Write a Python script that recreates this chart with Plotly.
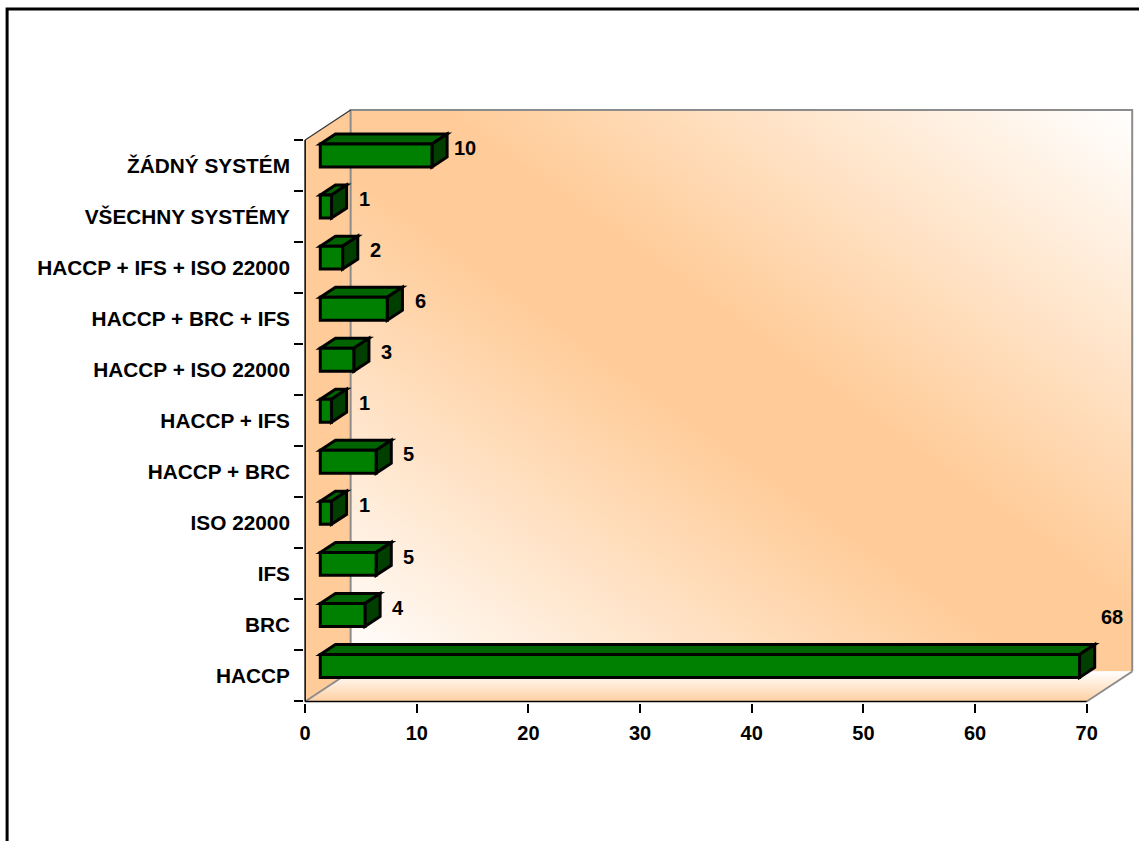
import base64
import plotly.graph_objects as go

# ---- data -------------------------------------------------------------
categories = [
    "HACCP",
    "BRC",
    "IFS",
    "ISO 22000",
    "HACCP + BRC",
    "HACCP + IFS",
    "HACCP + ISO 22000",
    "HACCP + BRC + IFS",
    "HACCP + IFS + ISO 22000",
    "VŠECHNY SYSTÉMY",
    "ŽÁDNÝ SYSTÉM",
]
counts = [68, 4, 5, 1, 5, 1, 3, 6, 2, 1, 10]
x_ticks = [0, 10, 20, 30, 40, 50, 60, 70]

# ---- geometry of the pseudo-3D box -------------------------------------
W, H = 1139, 841
PX_X = 11.165          # pixels per x unit
PX_Y = 51.06           # pixels per category band
X0_PX = 305.5          # pixel of x = 0 on the front plane
YB_PX = 701.7          # pixel of the front floor edge (y = -0.5)
DEPTH_X = 45.5 / PX_X  # depth of the box along x (data units)
DEPTH_Y = 30.0 / PX_Y  # depth of the box along y (data units)
X_MAX = x_ticks[-1]
N = len(categories)
Y_BOT, Y_TOP = -0.5, N - 0.5

XMIN, XMAX = -0.1, X_MAX + DEPTH_X + 0.25
YMIN, YMAX = Y_BOT - 0.03, Y_TOP + DEPTH_Y + 0.04

m_l = X0_PX + XMIN * PX_X
plot_w = (XMAX - XMIN) * PX_X
m_r = W - m_l - plot_w
bottom_px = YB_PX + (Y_BOT - YMIN) * PX_Y
m_b = H - bottom_px
plot_h = (YMAX - YMIN) * PX_Y
m_t = bottom_px - plot_h

PEACH = "#FFCC99"
FONT = "Liberation Sans, Arial, sans-serif"
FRONT, TOP, SIDE = "#008000", "#006400", "#003F00"
BAR_HALF = 0.225       # half thickness of a bar (band units)


def poly(pts):
    return "M " + " L ".join(f"{x},{y}" for x, y in pts) + " Z"


fig = go.Figure()

# floor with a front-to-back fade
fx = [0, X_MAX, X_MAX + DEPTH_X, DEPTH_X, 0]
fy = [Y_BOT, Y_BOT, Y_BOT + DEPTH_Y, Y_BOT + DEPTH_Y, Y_BOT]
fig.add_trace(go.Scatter(
    x=fx, y=fy, mode="lines", line=dict(width=0), fill="toself",
    fillgradient=dict(type="vertical", start=Y_BOT, stop=Y_BOT + DEPTH_Y,
                      colorscale=[[0, "#FFD0A2"], [1, "#FFFFFF"]]),
    hoverinfo="skip", showlegend=False,
))

shapes = []
# left side wall
shapes.append(dict(type="path", xref="x", yref="y", layer="below",
                   path=poly([(0, Y_BOT), (0, Y_TOP), (DEPTH_X, Y_TOP + DEPTH_Y),
                              (DEPTH_X, Y_BOT + DEPTH_Y)]),
                   fillcolor=PEACH, line=dict(width=0)))

GRAY = dict(color="#8C8C8C", width=2)
BLACK = dict(color="black", width=1.5)
# back wall frame
shapes.append(dict(type="path", xref="x", yref="y",
                   path=f"M {DEPTH_X},{Y_BOT + DEPTH_Y} L {DEPTH_X},{Y_TOP + DEPTH_Y} "
                        f"L {X_MAX + DEPTH_X},{Y_TOP + DEPTH_Y} L {X_MAX + DEPTH_X},{Y_BOT + DEPTH_Y}",
                   line=GRAY))
# floor side edges
shapes.append(dict(type="line", xref="x", yref="y", x0=0, y0=Y_BOT,
                   x1=DEPTH_X, y1=Y_BOT + DEPTH_Y, line=GRAY))
shapes.append(dict(type="line", xref="x", yref="y", x0=X_MAX, y0=Y_BOT,
                   x1=X_MAX + DEPTH_X, y1=Y_BOT + DEPTH_Y, line=GRAY))
# side wall top edge
shapes.append(dict(type="line", xref="x", yref="y", x0=0, y0=Y_TOP,
                   x1=DEPTH_X, y1=Y_TOP + DEPTH_Y, line=dict(color="#333333", width=1.2)))
# axis lines
shapes.append(dict(type="line", xref="x", yref="y", x0=0, y0=Y_BOT,
                   x1=X_MAX, y1=Y_BOT, line=BLACK))
shapes.append(dict(type="line", xref="x", yref="y", x0=0, y0=Y_BOT,
                   x1=0, y1=Y_TOP, line=BLACK))

# bars: front face sits one third into the depth, back face at two thirds
dx, dy = DEPTH_X / 3, DEPTH_Y / 3
OUT = dict(color="black", width=3)
annotations = []
for i, v in enumerate(counts):
    x0, x1 = dx, v + dx
    yc = i + dy
    lo, hi = yc - BAR_HALF, yc + BAR_HALF
    shapes.append(dict(type="path", xref="x", yref="y", fillcolor=TOP, line=OUT,
                       path=poly([(x0, hi), (x1, hi), (x1 + dx, hi + dy), (x0 + dx, hi + dy)])))
    shapes.append(dict(type="path", xref="x", yref="y", fillcolor=SIDE, line=OUT,
                       path=poly([(x1, lo), (x1 + dx, lo + dy), (x1 + dx, hi + dy), (x1, hi)])))
    shapes.append(dict(type="path", xref="x", yref="y", fillcolor=FRONT, line=OUT,
                       path=poly([(x0, lo), (x1, lo), (x1, hi), (x0, hi)])))
    # value label; one that reaches the last tick is lifted above the bar
    lift = 1.16 if v + 4.3 > X_MAX else 0.34
    annotations.append(dict(x=v + 4.3, y=i + lift, xref="x", yref="y",
                            text=str(v), showarrow=False, xanchor="center", yanchor="middle",
                            font=dict(family=FONT, size=20, color="black", weight="bold")))

# outer chart frame (runs off the right and bottom of the page)
def px_to_paper_x(p):
    return (p - m_l) / plot_w


def px_to_paper_y(p):
    return (H - m_b - p) / plot_h


shapes.append(dict(type="path", xref="paper", yref="paper",
                   path=f"M {px_to_paper_x(1160)},{px_to_paper_y(9)} L {px_to_paper_x(7.5)},{px_to_paper_y(9)} "
                        f"L {px_to_paper_x(7.5)},{px_to_paper_y(870)}",
                   line=dict(color="black", width=3)))

# back wall shading
svg = ('<svg xmlns="http://www.w3.org/2000/svg" width="200" height="200" viewBox="0 0 200 200" '
       'preserveAspectRatio="none"><defs><linearGradient id="g" x1="0" y1="1" x2="1" y2="0">'
       '<stop offset="0" stop-color="#FFFFFF"/><stop offset="0.44" stop-color="#FFCC99"/>'
       '<stop offset="0.56" stop-color="#FFCC99"/>'
       '<stop offset="1" stop-color="#FFFFFF"/></linearGradient></defs>'
       '<rect width="200" height="200" fill="url(#g)"/></svg>')
wall_src = "data:image/svg+xml;base64," + base64.b64encode(svg.encode()).decode()

fig.update_layout(
    width=W, height=H,
    margin=dict(l=m_l, r=m_r, t=m_t, b=m_b, pad=0),
    paper_bgcolor="white", plot_bgcolor="white",
    showlegend=False,
    shapes=shapes,
    annotations=annotations,
    images=[dict(source=wall_src, xref="x", yref="y", x=DEPTH_X, y=Y_TOP + DEPTH_Y,
                 sizex=X_MAX, sizey=Y_TOP - Y_BOT, sizing="stretch",
                 xanchor="left", yanchor="top", layer="below")],
    xaxis=dict(range=[XMIN, XMAX], tickmode="array", tickvals=x_ticks,
               ticks="outside", ticklen=9, tickwidth=1.5, tickcolor="black",
               showgrid=False, zeroline=False, showline=False,
               tickfont=dict(family=FONT, size=20, color="black", weight="bold"),
               ticklabelstandoff=3, fixedrange=True),
    yaxis=dict(range=[YMIN, YMAX], tickmode="array", tickvals=list(range(N)),
               ticktext=categories, ticks="", showgrid=False, zeroline=False,
               showline=False,
               minor=dict(tickmode="array", tickvals=[k - 0.5 for k in range(N + 1)],
                          ticks="outside", ticklen=9, tickwidth=1.5, tickcolor="black",
                          showgrid=False),
               tickfont=dict(family=FONT, size=20.8, color="black", weight="bold"),
               ticklabelstandoff=13, fixedrange=True),
)

fig.write_html("out.html")
